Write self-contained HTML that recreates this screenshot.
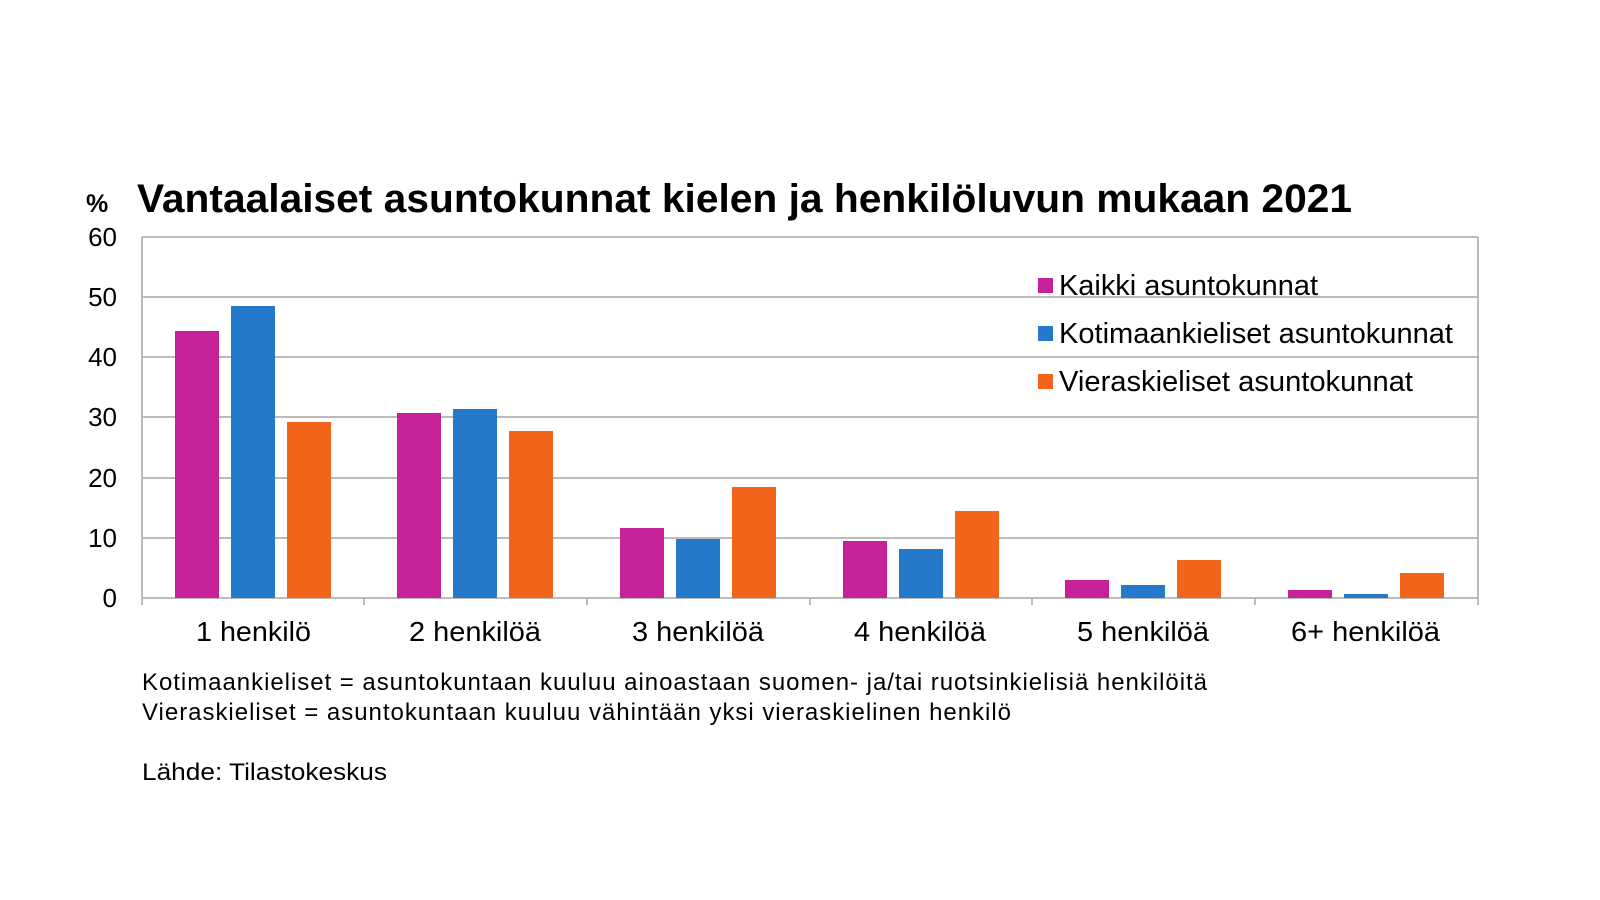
<!DOCTYPE html>
<html><head><meta charset="utf-8"><style>
html,body{margin:0;padding:0;background:#fff;}
svg{display:block;font-family:"Liberation Sans",Arial,sans-serif;}
</style></head><body>
<svg width="1600" height="900" viewBox="0 0 1600 900" xmlns="http://www.w3.org/2000/svg">
<rect width="1600" height="900" fill="#fff"/>
<text x="86" y="212" font-size="25" font-weight="bold" fill="#000">%</text>
<text x="137" y="212" font-size="40" font-weight="bold" fill="#000" textLength="1215" lengthAdjust="spacingAndGlyphs">Vantaalaiset asuntokunnat kielen ja henkilöluvun mukaan 2021</text>
<g stroke="#a6a6a6" stroke-width="1.5">
<line x1="142" y1="237" x2="1478" y2="237"/>
<line x1="142" y1="297" x2="1478" y2="297"/>
<line x1="142" y1="357" x2="1478" y2="357"/>
<line x1="142" y1="417" x2="1478" y2="417"/>
<line x1="142" y1="478" x2="1478" y2="478"/>
<line x1="142" y1="538" x2="1478" y2="538"/>
<line x1="142" y1="598" x2="1478" y2="598"/>
<line x1="142" y1="237" x2="142" y2="605"/>
<line x1="1478" y1="237" x2="1478" y2="605"/>
<line x1="364" y1="598" x2="364" y2="605"/>
<line x1="587" y1="598" x2="587" y2="605"/>
<line x1="810" y1="598" x2="810" y2="605"/>
<line x1="1032" y1="598" x2="1032" y2="605"/>
<line x1="1255" y1="598" x2="1255" y2="605"/>
</g>
<g font-size="26" fill="#000" text-anchor="end">
<text x="117" y="246">60</text><text x="117" y="306">50</text><text x="117" y="366">40</text>
<text x="117" y="426">30</text><text x="117" y="487">20</text><text x="117" y="547">10</text><text x="117" y="607">0</text>
</g>
<g fill="#C7219A">
<rect x="175" y="331" width="44" height="267"/><rect x="397" y="413" width="44" height="185"/>
<rect x="620" y="528" width="44" height="70"/><rect x="843" y="541" width="44" height="57"/>
<rect x="1065" y="580" width="44" height="18"/><rect x="1288" y="590" width="44" height="8"/>
</g>
<g fill="#2479CB">
<rect x="231" y="306" width="44" height="292"/><rect x="453" y="409" width="44" height="189"/>
<rect x="676" y="539" width="44" height="59"/><rect x="899" y="549" width="44" height="49"/>
<rect x="1121" y="585" width="44" height="13"/><rect x="1344" y="594" width="44" height="4"/>
</g>
<g fill="#F26419">
<rect x="287" y="422" width="44" height="176"/><rect x="509" y="431" width="44" height="167"/>
<rect x="732" y="487" width="44" height="111"/><rect x="955" y="511" width="44" height="87"/>
<rect x="1177" y="560" width="44" height="38"/><rect x="1400" y="573" width="44" height="25"/>
</g>
<g font-size="28" fill="#000" lengthAdjust="spacingAndGlyphs">
<text x="196" y="641" textLength="115" lengthAdjust="spacingAndGlyphs">1 henkilö</text>
<text x="409" y="641" textLength="132" lengthAdjust="spacingAndGlyphs">2 henkilöä</text>
<text x="632" y="641" textLength="132" lengthAdjust="spacingAndGlyphs">3 henkilöä</text>
<text x="854" y="641" textLength="132" lengthAdjust="spacingAndGlyphs">4 henkilöä</text>
<text x="1077" y="641" textLength="132" lengthAdjust="spacingAndGlyphs">5 henkilöä</text>
<text x="1291" y="641" textLength="149" lengthAdjust="spacingAndGlyphs">6+ henkilöä</text>
</g>
<rect x="1038" y="278" width="15" height="15" fill="#C7219A"/>
<rect x="1038" y="326" width="15" height="15" fill="#2479CB"/>
<rect x="1038" y="374" width="15" height="15" fill="#F26419"/>
<g font-size="29" fill="#000">
<text x="1059" y="295" textLength="259" lengthAdjust="spacingAndGlyphs">Kaikki asuntokunnat</text>
<text x="1059" y="343" textLength="394" lengthAdjust="spacingAndGlyphs">Kotimaankieliset asuntokunnat</text>
<text x="1059" y="391" textLength="354" lengthAdjust="spacingAndGlyphs">Vieraskieliset asuntokunnat</text>
</g>
<g font-size="24" fill="#000">
<text x="142" y="690" textLength="1065" lengthAdjust="spacing">Kotimaankieliset = asuntokuntaan kuuluu ainoastaan suomen- ja/tai ruotsinkielisiä henkilöitä</text>
<text x="142" y="720" textLength="869" lengthAdjust="spacing">Vieraskieliset = asuntokuntaan kuuluu vähintään yksi vieraskielinen henkilö</text>
<text x="142" y="780" textLength="245" lengthAdjust="spacingAndGlyphs">Lähde: Tilastokeskus</text>
</g>
</svg>
</body></html>
